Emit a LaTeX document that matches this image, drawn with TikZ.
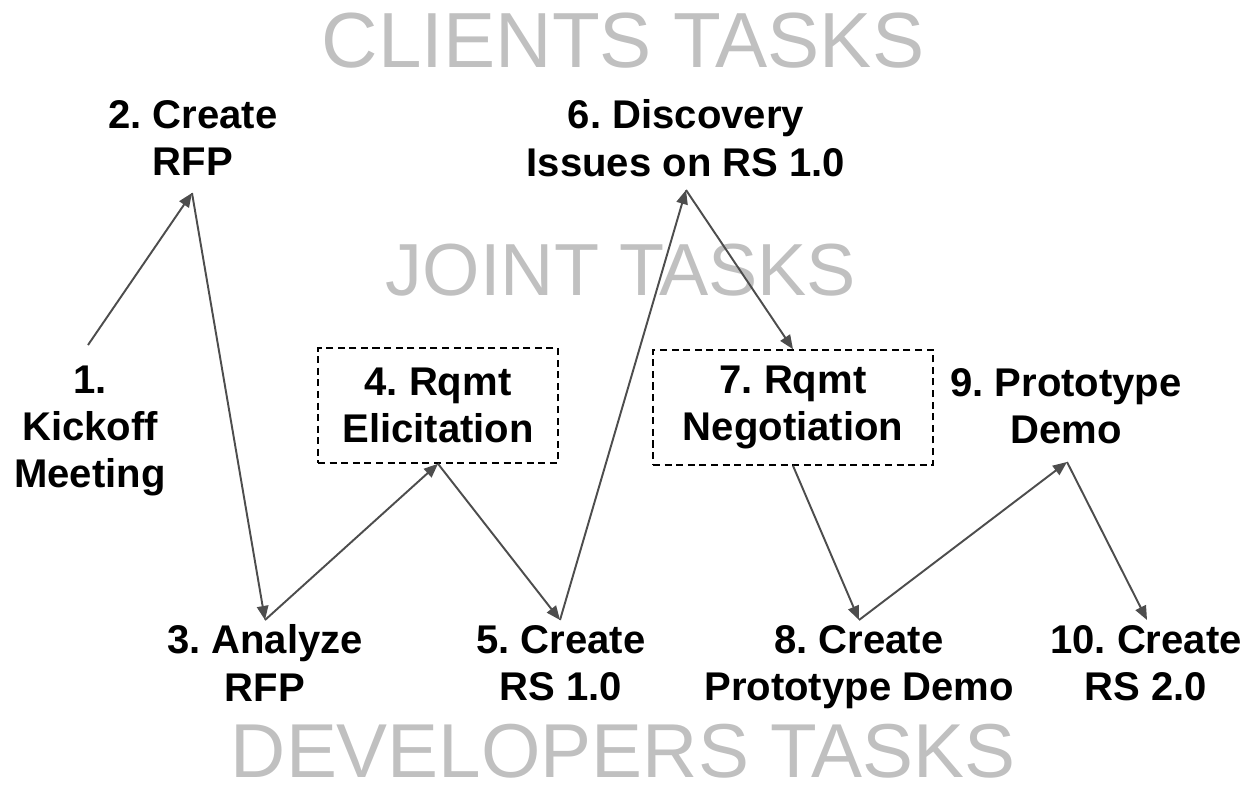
\documentclass[tikz,border=0pt]{standalone}
\usepackage{fontspec}
\setmainfont{Liberation Sans}
\usetikzlibrary{arrows.meta}
\frenchspacing

\definecolor{flowgray}{HTML}{4D4D4D}
\definecolor{titlegray}{HTML}{C0C0C0}

\tikzset{
  task/.style={font=\bfseries\fontsize{22.8}{27}\selectfont, align=center, inner sep=0pt},
  lane/.style={font=\fontsize{44.5}{50}\selectfont, text=titlegray, inner sep=0pt},
  taskbox/.style={task, draw=black, line width=0.9pt, dash pattern=on 4pt off 2.6pt},
  flow/.style={draw=flowgray, line width=1.1pt, -{Triangle[length=8pt, width=6.5pt]}}
}

\begin{document}
\begin{tikzpicture}[x=0.02cm, y=-0.02cm]

  \useasboundingbox (0,0) rectangle (1246,791);

  % Lane titles
  \node[lane] (clients) at (623,41) {CLIENTS TASKS};
  \node[lane, font=\fontsize{42}{50}\selectfont] (joint) at (621,270) {JOINT TASKS};
  \node[lane, font=\fontsize{43.5}{50}\selectfont] (devs) at (623,751) {DEVELOPERS TASKS};

	% Tasks
	\node[task] (kickoff) at (90,431) {1.\\Kickoff\\Meeting};
	\node[task] (rfp) at (193,138) {2. Create\\RFP};
	\node[task] (analyze) at (265,663) {3. Analyze\\RFP};
	\node[taskbox, minimum width=4.8cm, minimum height=2.3cm] (elicit) at (438,405.5) {4. Rqmt\\Elicitation};
	\node[task] (rsone) at (561,663) {5. Create\\RS 1.0};
	\node[task] (issues) at (686,138) {6. Discovery\\Issues on RS 1.0};
	\node[taskbox, minimum width=5.6cm, minimum height=2.3cm] (negot) at (793,407.5) {7. Rqmt\\Negotiation};
	\node[task] (proto) at (859,667) {8. Create\\Prototype Demo};
	\node[task] (demo) at (1066,406) {9. Prototype\\Demo};
	\node[task] (rstwo) at (1146,663) {10. Create\\RS 2.0};

	% Turning points
	\coordinate (p1) at (88,345);
	\coordinate (p2) at (192,193);
	\coordinate (p3) at (265,620);
	\coordinate (p5) at (560,620);
	\coordinate (p6) at (686,190);
	\coordinate (p8) at (859,620);
	\coordinate (p9) at (1067,462);
	\coordinate (p10) at (1147,620);

	% Flow
	\draw[flow] (p1) -- (p2);
	\draw[flow] (p2) -- (p3);
	\draw[flow] (p3) -- (elicit.south);
	\draw[flow] (elicit.south) -- (p5);
	\draw[flow] (p5) -- (p6);
	\draw[flow] (p6) -- (negot.north);
	\draw[flow] (negot.south) -- (p8);
	\draw[flow] (p8) -- (p9);
	\draw[flow] (p9) -- (p10);

\end{tikzpicture}
\end{document}
